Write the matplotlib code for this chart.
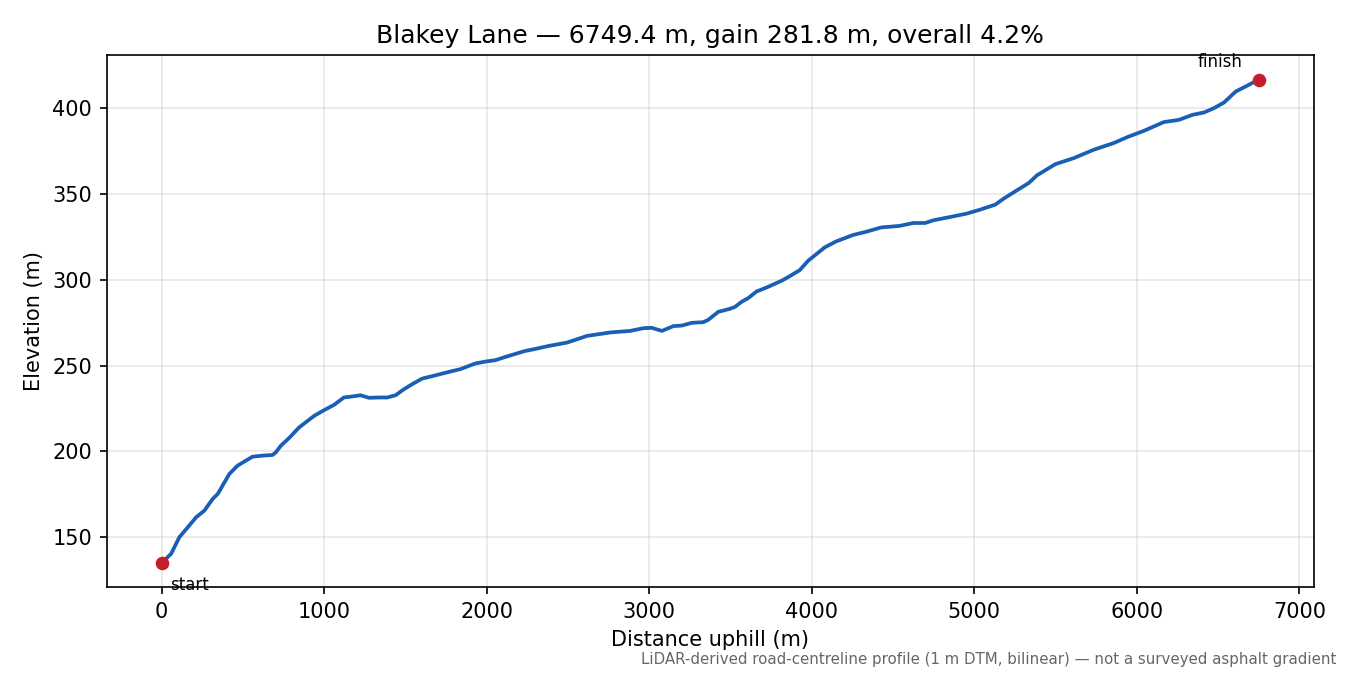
import matplotlib
matplotlib.use("Agg")
import matplotlib.pyplot as plt
import numpy as np

# ── Profile ──────────────────────────────────────────────────────────────────
DIST_M = [
    0, 59, 110, 162, 213, 264, 315, 346, 417, 468, 519, 560, 622, 683, 703,
    734, 785, 847, 939, 1000, 1061, 1122, 1173, 1224, 1276, 1337, 1388, 1440,
    1491, 1552, 1603, 1685, 1767, 1838, 1930, 1991, 2052, 2114, 2236, 2290,
    2380, 2495, 2618, 2761, 2883, 2965, 3016, 3078, 3149, 3200, 3262, 3333,
    3364, 3425, 3497, 3528, 3569, 3609, 3661, 3722, 3814, 3865, 3926, 3978,
    4029, 4080, 4151, 4254, 4335, 4427, 4540, 4626, 4698, 4749, 4852, 4955,
    5037, 5129, 5181, 5253, 5335, 5386, 5499, 5612, 5735, 5858, 5940, 6043,
    6166, 6259, 6341, 6413, 6474, 6536, 6608, 6680, 6749.4,
]
ELEV_M = [
    134.9, 140.3, 150.0, 155.8, 161.6, 165.5, 172.3, 175.2, 186.8, 191.7,
    194.6, 196.9, 197.5, 197.9, 199.4, 203.3, 207.8, 214.0, 220.7, 224.0,
    227.1, 231.4, 232.0, 232.7, 231.2, 231.4, 231.4, 232.7, 236.2, 239.7,
    242.4, 244.3, 246.3, 247.9, 251.2, 252.3, 253.1, 255.0, 258.5, 259.5,
    261.4, 263.4, 267.3, 269.3, 270.2, 271.8, 272.0, 270.2, 273.0, 273.3,
    274.9, 275.3, 276.7, 281.3, 283.1, 284.2, 287.2, 289.3, 293.2, 295.5,
    299.4, 302.1, 305.6, 311.1, 315.0, 318.9, 322.4, 326.1, 328.0, 330.5,
    331.4, 333.1, 333.1, 334.7, 336.6, 338.6, 340.9, 343.8, 347.3, 351.6,
    356.4, 360.9, 367.4, 370.9, 375.8, 379.7, 383.1, 386.8, 391.9, 393.2,
    396.1, 397.5, 400.0, 403.3, 409.7, 413.2, 416.7,
]

ROAD_NAME = "Blakey Lane"
NOTE = ("LiDAR-derived road-centreline profile (1 m DTM, bilinear) "
        "\u2014 not a surveyed asphalt gradient")

LINE_COLOR = "#1b5eb5"
DOT_COLOR = "#c41e2a"


def main():
    d = np.array(DIST_M)
    z = np.array(ELEV_M)
    length = d[-1]
    gain = z[-1] - z[0]
    grade = 100.0 * gain / length

    fig, ax = plt.subplots(figsize=(9, 4.5), dpi=150)
    fig.subplots_adjust(left=0.079, right=0.973, top=0.918, bottom=0.13)

    ax.plot(d, z, color=LINE_COLOR, lw=1.8)
    ax.plot([d[0], d[-1]], [z[0], z[-1]], "o", color=DOT_COLOR, ms=5.5)

    ax.annotate("start", (d[0], z[0]), xytext=(4, -6),
                textcoords="offset points", ha="left", va="top", fontsize=8)
    ax.annotate("finish", (d[-1], z[-1]), xytext=(-8, 4),
                textcoords="offset points", ha="right", va="bottom",
                fontsize=8)

    ax.set_title(f"{ROAD_NAME} \u2014 {length:.1f} m, gain {gain:.1f} m, "
                 f"overall {grade:.1f}%", fontsize=12)
    ax.set_xlabel("Distance uphill (m)")
    ax.set_ylabel("Elevation (m)")
    ax.grid(True, alpha=0.3)

    fig.text(0.99, 0.012, NOTE, ha="right", va="bottom", fontsize=7.2,
             color="#666666")

    fig.savefig("out.png", dpi=150)
    plt.close(fig)


if __name__ == "__main__":
    main()
